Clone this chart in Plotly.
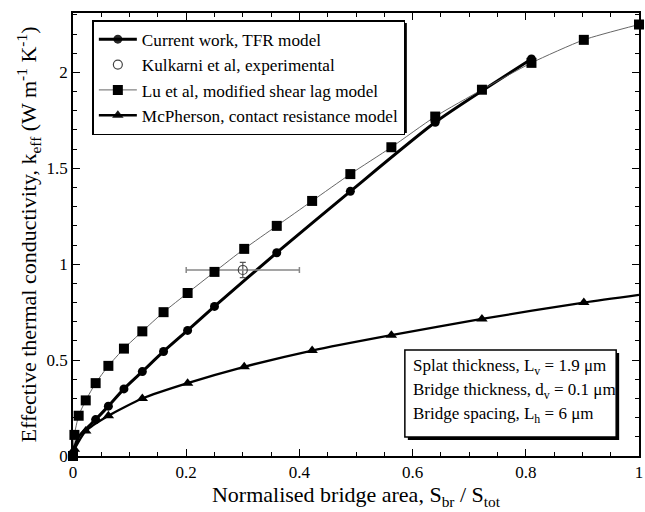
import plotly.graph_objects as go

# Lu et al, modified shear lag model
lu_x = [0, 0.0025, 0.01, 0.0225, 0.04, 0.0625, 0.09, 0.1225, 0.16, 0.2025, 0.25,
        0.3025, 0.36, 0.4225, 0.49, 0.5625, 0.64, 0.7225, 0.81, 0.9025, 1.0]
lu_y = [0, 0.11, 0.21, 0.29, 0.38, 0.47, 0.56, 0.65, 0.75, 0.85, 0.96,
        1.08, 1.20, 1.33, 1.47, 1.61, 1.77, 1.91, 2.05, 2.17, 2.25]

# Current work, TFR model
tfr_x = [0, 0.01, 0.04, 0.0625, 0.09, 0.1225, 0.16, 0.2025, 0.25, 0.36, 0.49, 0.64, 0.81]
tfr_y = [0.02, 0.10, 0.19, 0.26, 0.35, 0.44, 0.545, 0.655, 0.78, 1.06, 1.38, 1.74, 2.07]
tfr_shown = [0, 0, 1, 1, 1, 1, 1, 1, 1, 1, 1, 1, 1]

# McPherson, contact resistance model
mc_x = [0.0025, 0.0225, 0.0625, 0.1225, 0.2025, 0.3025, 0.4225, 0.5625, 0.7225, 0.9025, 1.0]
mc_y = [0.035, 0.13, 0.21, 0.30, 0.38, 0.465, 0.55, 0.63, 0.715, 0.80, 0.84]
mc_shown = [1, 1, 1, 1, 1, 1, 1, 1, 1, 1, 0]

# Kulkarni et al, experimental
ku_x = [0.3]
ku_y = [0.97]
ku_ex = [0.1]
ku_ey = [0.04]

box_lines = [
    "Splat thickness, L<sub>v</sub> = 1.9 μm",
    "Bridge thickness, d<sub>v</sub> = 0.1 μm",
    "Bridge spacing, L<sub>h</sub> = 6 μm",
]

FONT = "Liberation Serif"

fig = go.Figure()
fig.add_trace(go.Scatter(
    x=tfr_x, y=tfr_y, mode="lines+markers", name="Current work, TFR model",
    line=dict(color="black", width=3, shape="spline", smoothing=0.6),
    marker=dict(symbol="circle", size=9, color="black", opacity=tfr_shown),
    cliponaxis=False))
fig.add_trace(go.Scatter(
    x=ku_x, y=ku_y, mode="markers", name="Kulkarni et al, experimental",
    marker=dict(symbol="circle-open", size=9, color="#444", line=dict(width=1.2)),
    error_x=dict(type="data", array=ku_ex, color="#888", thickness=1.5, width=3),
    error_y=dict(type="data", array=ku_ey, color="#555", thickness=1.2, width=3)))
fig.add_trace(go.Scatter(
    x=lu_x, y=lu_y, mode="lines+markers", name="Lu et al, modified shear lag model",
    line=dict(color="#555", width=0.9, shape="spline", smoothing=0.6),
    marker=dict(symbol="square", size=10, color="black"),
    cliponaxis=False))
fig.add_trace(go.Scatter(
    x=mc_x, y=mc_y, mode="lines+markers", name="McPherson, contact resistance model",
    line=dict(color="black", width=2.3, shape="spline", smoothing=0.6),
    marker=dict(symbol="triangle-up", size=10, color="black", opacity=mc_shown),
    cliponaxis=False))

L, R, T, B = 72.5, 643, 13, 456
W, H = 645, 512
pw, ph = R - L, B - T


def px(xp):
    return (xp - L) / pw


def py(yp):
    return (B - yp) / ph


shapes = []
# legend shadow
shapes.append(dict(type="rect", xref="paper", yref="paper",
                   x0=px(95), x1=px(409), y0=py(133), y1=py(23),
                   fillcolor="black", line=dict(width=0), layer="above"))
# info box shadow and box
shapes.append(dict(type="rect", xref="paper", yref="paper",
                   x0=px(410), x1=px(623), y0=py(440), y1=py(353),
                   fillcolor="black", line=dict(width=0), layer="above"))
shapes.append(dict(type="rect", xref="paper", yref="paper",
                   x0=px(407), x1=px(620), y0=py(437), y1=py(350),
                   fillcolor="white", line=dict(color="black", width=1.5), layer="above"))

annotations = []
for i, t in enumerate(box_lines):
    annotations.append(dict(
        text=t, xref="paper", yref="paper", x=px(413), y=py(367 + 24 * i),
        xanchor="left", yanchor="middle", showarrow=False,
        font=dict(family=FONT, size=17, color="black")))

axis_common = dict(
    showline=True, linecolor="black", linewidth=1.5, mirror="ticks",
    ticks="inside", ticklen=7, tickwidth=1, tickcolor="black",
    showgrid=False, zeroline=False, ticklabeloverflow="allow",
    tickfont=dict(family=FONT, size=17, color="black"),
)

fig.update_layout(
    width=W, height=H,
    margin=dict(l=L, r=W - R, t=T, b=H - B),
    paper_bgcolor="white", plot_bgcolor="white",
    font=dict(family=FONT, color="black"),
    xaxis=dict(range=[0, 1], dtick=0.2, tick0=0,
               minor=dict(dtick=0.05, ticklen=4, ticks="inside", tickcolor="black"),
               title=dict(text="Normalised bridge area, S<sub>br</sub> / S<sub>tot</sub>",
                          font=dict(family=FONT, size=22), standoff=3),
               **axis_common),
    yaxis=dict(range=[0, 2.31], dtick=0.5, tick0=0,
               minor=dict(dtick=0.1, ticklen=4, ticks="inside", tickcolor="black"),
               title=dict(text="Effective thermal conductivity, k<sub>eff</sub> (W m<sup>-1</sup> K<sup>-1</sup>)",
                          font=dict(family=FONT, size=22), standoff=4),
               **axis_common),
    showlegend=True,
    legend=dict(x=px(92), y=py(20), xanchor="left", yanchor="top",
                bgcolor="white", bordercolor="black", borderwidth=1.5,
                font=dict(family=FONT, size=17.2, color="black"),
                itemwidth=38),
    shapes=shapes,
    annotations=annotations,
)

fig.write_html("out.html")
